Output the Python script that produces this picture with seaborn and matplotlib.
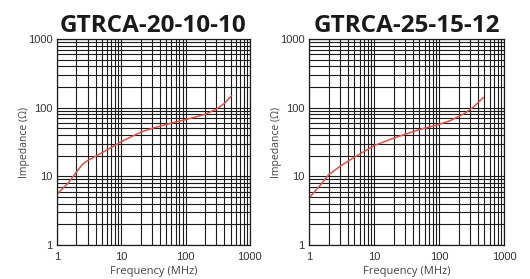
import numpy as np
import pandas as pd
import matplotlib
matplotlib.use("Agg")
import matplotlib.pyplot as plt
import seaborn as sns
from matplotlib.ticker import LogLocator, FixedLocator, NullFormatter

sns.set_style("white")
plt.rcParams['font.family'] = ['Liberation Sans', 'DejaVu Sans']

# Impedance curves
freq_a = [1, 1.5, 2, 2.5, 3, 5, 10, 20, 30, 50, 100, 200, 300, 400, 520]
imp_a = [5.5, 8, 11.5, 15, 17, 22, 32, 44, 50, 57, 67, 80, 95, 115, 150]

freq_b = [1, 1.5, 2, 3, 5, 10, 20, 50, 100, 150, 250, 350, 480]
imp_b = [4.8, 7.5, 10.5, 14, 19, 28, 36, 48, 57, 65, 83, 105, 141]

titles = ["GTRCA-20-10-10", "GTRCA-25-15-12"]
tick_vals = [1, 10, 100, 1000]
tick_labels = ["1", "10", "100", "1000"]

fig = plt.figure(figsize=(5.3, 2.79), dpi=100)
axes = [fig.add_axes([0.1075, 0.122, 0.364, 0.738]),
        fig.add_axes([0.583, 0.122, 0.368, 0.738])]

for ax, f, z, title in zip(axes, [freq_a, freq_b], [imp_a, imp_b], titles):
    df = pd.DataFrame({"freq": f, "imp": z})
    sns.lineplot(data=df, x="freq", y="imp", ax=ax, color="#e0524a", linewidth=1.1)
    ax.set_xscale("log")
    ax.set_yscale("log")
    ax.set_xlim(1, 1000)
    ax.set_ylim(1, 1000)
    ax.xaxis.set_major_locator(FixedLocator(tick_vals))
    ax.yaxis.set_major_locator(FixedLocator(tick_vals))
    ax.set_xticklabels(tick_labels)
    ax.set_yticklabels(tick_labels)
    ax.xaxis.set_minor_locator(LogLocator(base=10, subs=np.arange(2, 10), numticks=20))
    ax.yaxis.set_minor_locator(LogLocator(base=10, subs=np.arange(2, 10), numticks=20))
    ax.xaxis.set_minor_formatter(NullFormatter())
    ax.yaxis.set_minor_formatter(NullFormatter())
    ax.grid(True, which="both", color="#1a1a1a", linewidth=0.8)
    ax.tick_params(which="both", length=0, labelsize=8, colors="#333333")
    ax.tick_params(axis="x", pad=5)
    ax.tick_params(axis="y", pad=3)
    for s in ax.spines.values():
        s.set_color("#1a1a1a")
        s.set_linewidth(0.9)
    ax.set_xlabel("Frequency (MHz)", fontsize=8, family="Open Sans", color="#444444", labelpad=3)
    ax.set_ylabel("Impedance (Ω)", fontsize=7.5, family="Open Sans", color="#444444", labelpad=-1)
    ax.set_title(title, fontsize=17.5, family="Open Sans", fontweight="bold", color="#1a1a1a", pad=5)

fig.savefig("out.png", dpi=100)
